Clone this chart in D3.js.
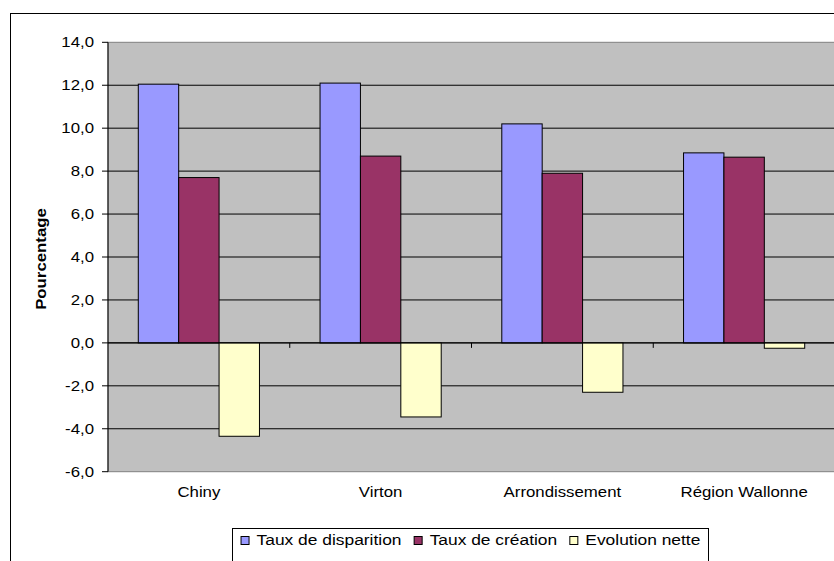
<!DOCTYPE html>
<html>
<head>
<meta charset="utf-8">
<script src="https://cdn.jsdelivr.net/npm/d3@7"></script>
<style>
html,body{margin:0;padding:0;background:#fff;}
svg{display:block;}
text{font-family:"Liberation Sans",Arial,sans-serif;fill:#000;}
</style>
</head>
<body>
<svg id="c" width="834" height="561"></svg>
<script>
const categories = ["Chiny", "Virton", "Arrondissement", "Région Wallonne"];
const seriesNames = ["Taux de disparition", "Taux de création", "Evolution nette"];
const disparition = [12.05, 12.1, 10.2, 8.85];
const creation = [7.7, 8.7, 7.9, 8.65];
const evolution = [-4.35, -3.45, -2.3, -0.25];
const colors = ["#9999FF", "#993366", "#FFFFCC"];
const yTicks = [-6, -4, -2, 0, 2, 4, 6, 8, 10, 12, 14];
const yLabel = "Pourcentage";

const seriesValues = [disparition, creation, evolution];
const SX = 1.2; // horizontal text stretch

const svg = d3.select("#c");
const plot = {left: 108, right: 835, top: 42.3, bottom: 471.7};

// outer chart border (extends beyond visible area)
svg.append("rect").attr("x", 10.5).attr("y", 13.5).attr("width", 900).attr("height", 700)
  .attr("fill", "#fff").attr("stroke", "#000").attr("stroke-width", 1);

const y = d3.scaleLinear().domain([-6, 14]).range([plot.bottom, plot.top]);
const x0 = d3.scaleBand().domain(categories).range([plot.left, plot.right]).paddingInner(0).paddingOuter(0);
const bw = x0.bandwidth() / 4.5;
const x1 = d3.scaleBand().domain(seriesNames).range([0.75 * bw, 3.75 * bw]).padding(0);

// plot background
svg.append("rect").attr("x", plot.left).attr("y", plot.top)
  .attr("width", plot.right - plot.left).attr("height", plot.bottom - plot.top)
  .attr("fill", "#C0C0C0").attr("stroke", "#808080").attr("stroke-width", 1);

// gridlines
svg.append("g").selectAll("line").data(yTicks.filter(t => t > -6 && t < 14)).join("line")
  .attr("x1", plot.left).attr("x2", plot.right)
  .attr("y1", d => y(d)).attr("y2", d => y(d))
  .attr("stroke", "#000").attr("stroke-width", 1);

// bars
const data = [];
categories.forEach((c, i) => seriesNames.forEach((s, j) => data.push({c, s, j, v: seriesValues[j][i]})));
svg.append("g").selectAll("rect").data(data).join("rect")
  .attr("x", d => x0(d.c) + x1(d.s))
  .attr("width", x1.bandwidth())
  .attr("y", d => y(Math.max(0, d.v)))
  .attr("height", d => Math.abs(y(d.v) - y(0)))
  .attr("fill", d => colors[d.j])
  .attr("stroke", "#000").attr("stroke-width", 1);

// category axis at zero
svg.append("line").attr("x1", plot.left).attr("x2", plot.right)
  .attr("y1", y(0)).attr("y2", y(0)).attr("stroke", "#000");
const bounds = categories.slice(1).map(c => x0(c));
svg.append("g").selectAll("line").data(bounds).join("line")
  .attr("x1", d => d).attr("x2", d => d)
  .attr("y1", y(0)).attr("y2", y(0) + 5).attr("stroke", "#000");

// y axis
svg.append("line").attr("x1", plot.left).attr("x2", plot.left)
  .attr("y1", plot.top).attr("y2", plot.bottom).attr("stroke", "#000");
svg.append("g").selectAll("line").data(yTicks).join("line")
  .attr("x1", plot.left - 6).attr("x2", plot.left)
  .attr("y1", d => y(d)).attr("y2", d => y(d)).attr("stroke", "#000");
const fmt = d => d3.format(".1f")(d).replace(".", ",").replace("−", "-");
svg.append("g").selectAll("text").data(yTicks).join("text")
  .attr("transform", d => `translate(94,${y(d)}) scale(${SX},1)`)
  .attr("text-anchor", "end").attr("dy", "0.36em")
  .style("font-size", "14px")
  .text(fmt);

// y title
svg.append("text")
  .attr("transform", `translate(46,259) rotate(-90) scale(${SX},1)`)
  .attr("text-anchor", "middle")
  .style("font-size", "14px").style("font-weight", "bold")
  .text(yLabel);

// category labels
svg.append("g").selectAll("text").data(categories).join("text")
  .attr("transform", d => `translate(${x0(d) + x0.bandwidth() / 2},497) scale(${SX},1)`)
  .attr("text-anchor", "middle")
  .style("font-size", "14px")
  .text(d => d);

// legend
const lg = {x: 232.5, y: 528.5, w: 476};
svg.append("rect").attr("x", lg.x).attr("y", lg.y).attr("width", lg.w).attr("height", 40)
  .attr("fill", "#fff").attr("stroke", "#000").attr("stroke-width", 1);
const items = svg.append("g");
const texts = [];
seriesNames.forEach((s, j) => {
  const g = items.append("g");
  g.append("rect").attr("class", "sw").attr("width", 8).attr("height", 8)
    .attr("fill", colors[j]).attr("stroke", "#000").attr("stroke-width", 1);
  const t = g.append("text").style("font-size", "14.5px").text(s);
  texts.push({g, t, w: t.node().getComputedTextLength() * SX});
});
const sq = 9, gapS = 7, gapI = 12;
const total = texts.reduce((a, o) => a + o.w, 0) + 3 * (sq + gapS) + 2 * gapI;
let cx = lg.x + (lg.w - total) / 2;
texts.forEach(o => {
  o.g.select("rect.sw").attr("x", cx + 0.5).attr("y", 536.5);
  cx += sq + gapS;
  o.t.attr("transform", `translate(${cx},545) scale(${SX},1)`);
  cx += o.w + gapI;
});
</script>
</body>
</html>
